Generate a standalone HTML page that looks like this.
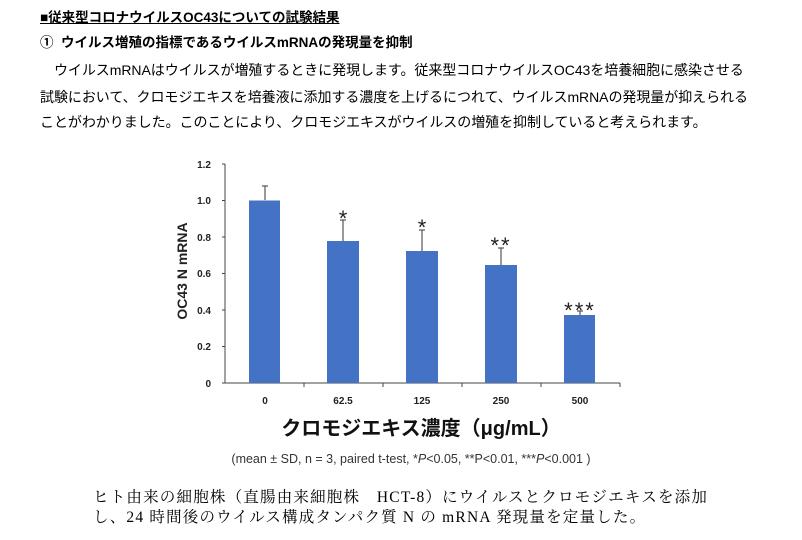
<!DOCTYPE html>
<html><head><meta charset="utf-8"><style>
body{margin:0;width:802px;height:540px;background:#fff;position:relative;overflow:hidden;font-family:"Liberation Sans","Noto Sans CJK JP",sans-serif;color:#000}
.t{position:absolute;white-space:nowrap;font-size:14px;line-height:16px}
</style></head><body>
<div class="t" style="left:40px;top:10px;font-weight:bold;text-decoration:underline;font-size:13.5px">■従来型コロナウイルスOC43についての試験結果</div>
<div class="t" style="left:40px;top:35px;font-weight:bold;font-size:13.5px">①&nbsp; ウイルス増殖の指標であるウイルスmRNAの発現量を抑制</div>
<div class="t" style="left:40px;top:62px;letter-spacing:-0.05px">　ウイルスmRNAはウイルスが増殖するときに発現します。従来型コロナウイルスOC43を培養細胞に感染させる</div>
<div class="t" style="left:40px;top:89px;letter-spacing:-0.05px">試験において、クロモジエキスを培養液に添加する濃度を上げるにつれて、ウイルスmRNAの発現量が抑えられる</div>
<div class="t" style="left:40px;top:114px;letter-spacing:-0.05px">ことがわかりました。このことにより、クロモジエキスがウイルスの増殖を抑制していると考えられます。</div>

<svg style="position:absolute;left:0;top:0" width="802" height="540">
<g font-family="Liberation Sans, sans-serif" font-weight="bold" font-size="10" fill="#222" text-anchor="end">
<text x="211" y="387">0</text><text x="211" y="350">0.2</text><text x="211" y="314">0.4</text>
<text x="211" y="277">0.6</text><text x="211" y="241">0.8</text><text x="211" y="204">1.0</text><text x="211" y="168">1.2</text>
</g>
<line x1="225" y1="164" x2="225" y2="383" stroke="#444"/>
<line x1="222" y1="383" x2="620" y2="383" stroke="#444"/>
<g stroke="#444"><line x1="222" y1="164" x2="225" y2="164"/><line x1="222" y1="200.5" x2="225" y2="200.5"/><line x1="222" y1="237" x2="225" y2="237"/><line x1="222" y1="273.5" x2="225" y2="273.5"/><line x1="222" y1="310" x2="225" y2="310"/><line x1="222" y1="346.5" x2="225" y2="346.5"/>
<line x1="304" y1="383" x2="304" y2="387"/><line x1="383" y1="383" x2="383" y2="387"/><line x1="462" y1="383" x2="462" y2="387"/><line x1="541" y1="383" x2="541" y2="387"/><line x1="620" y1="383" x2="620" y2="387"/></g>
<g stroke="#555" stroke-width="1.2">
<line x1="265" y1="186" x2="265" y2="200"/><line x1="262" y1="186" x2="268" y2="186"/>
<line x1="343" y1="220" x2="343" y2="241"/><line x1="340" y1="220" x2="346" y2="220"/>
<line x1="422" y1="230" x2="422" y2="251"/><line x1="419" y1="230" x2="425" y2="230"/>
<line x1="501" y1="248" x2="501" y2="265"/><line x1="498" y1="248" x2="504" y2="248"/>
<line x1="580" y1="311" x2="580" y2="315"/><line x1="577" y1="311" x2="583" y2="311"/>
</g>
<g fill="#4472c4">
<rect x="249" y="200.5" width="31" height="182.5"/>
<rect x="327" y="241" width="32" height="142"/>
<rect x="406" y="251" width="32" height="132"/>
<rect x="485" y="265" width="32" height="118"/>
<rect x="564" y="315" width="31" height="68"/>
</g>
<g font-family="Liberation Sans, sans-serif" font-size="22" fill="#222" text-anchor="middle">
<text x="343" y="226">*</text><text x="422" y="235">*</text><text x="501" y="253" letter-spacing="2">**</text><text x="580" y="318" letter-spacing="2">***</text>
</g>
<g font-family="Liberation Sans, sans-serif" font-weight="bold" font-size="10" fill="#222" text-anchor="middle">
<text x="265" y="404">0</text><text x="343" y="404">62.5</text><text x="422" y="404">125</text><text x="501" y="404">250</text><text x="580" y="404">500</text>
</g>
<text x="421" y="435" text-anchor="middle" font-family="Liberation Sans, Noto Sans CJK JP, sans-serif" font-weight="bold" font-size="20" fill="#111">クロモジエキス濃度（μg/mL）</text>
<text transform="translate(187,271) rotate(-90)" text-anchor="middle" font-family="Liberation Sans, sans-serif" font-weight="bold" font-size="14" fill="#222">OC43 N mRNA</text>
<text x="411" y="463" text-anchor="middle" font-family="Liberation Sans, sans-serif" font-size="12.5" fill="#333">(mean ± SD, n = 3, paired t-test, *<tspan font-style="italic">P</tspan>&lt;0.05, **P&lt;0.01,  ***<tspan font-style="italic">P</tspan>&lt;0.001 )</text>
</svg>
<div class="t" style="left:93px;top:489px;font-family:'Liberation Serif','Noto Serif CJK SC',serif;font-size:15.5px;line-height:18px;letter-spacing:1.2px">ヒト由来の細胞株（直腸由来細胞株　HCT-8）にウイルスとクロモジエキスを添加</div>
<div class="t" style="left:93px;top:509px;font-family:'Liberation Serif','Noto Serif CJK SC',serif;font-size:15.5px;line-height:18px;letter-spacing:1.2px">し、24 時間後のウイルス構成タンパク質 N の mRNA 発現量を定量した。</div>
</body></html>
